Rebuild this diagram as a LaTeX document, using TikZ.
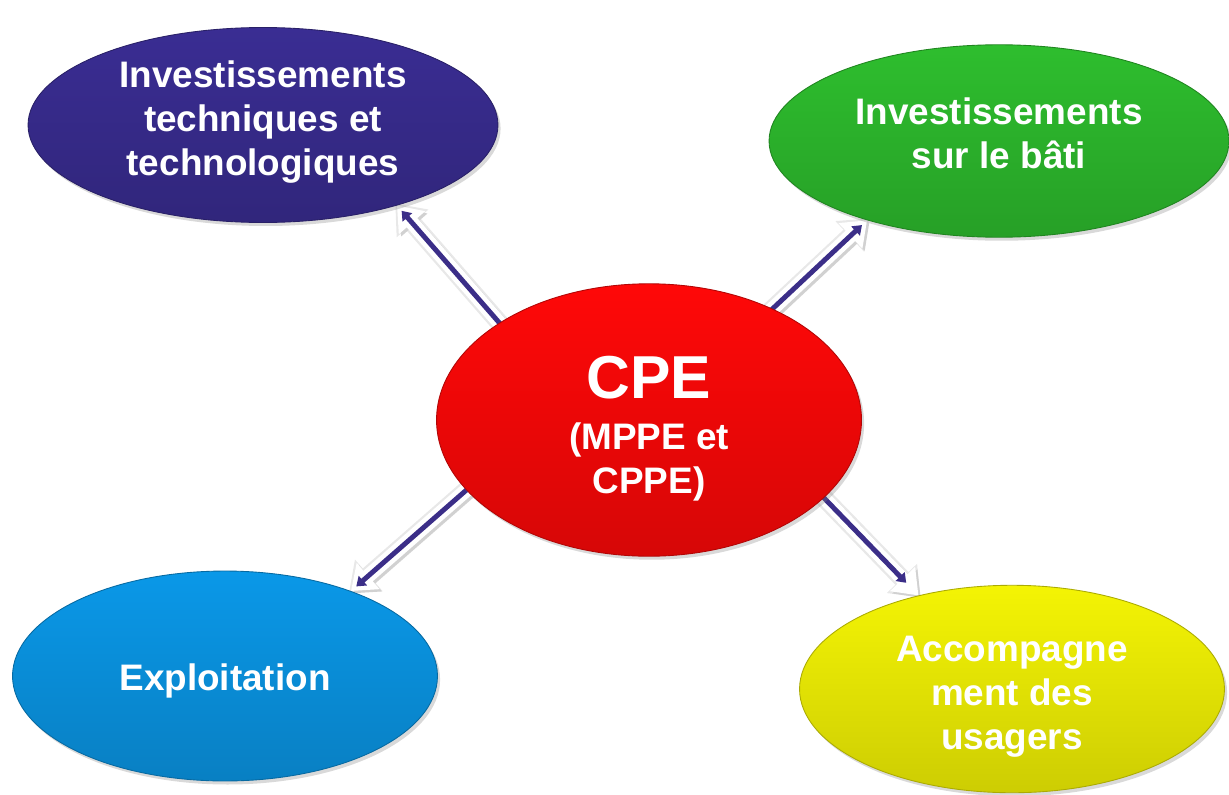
\documentclass[tikz,border=0pt]{standalone}
\usepackage{fontspec}
\setmainfont{Liberation Sans}
\usetikzlibrary{arrows.meta}
\usetikzlibrary{shapes.geometric}
\usetikzlibrary{shadows}
\usetikzlibrary{backgrounds}
\definecolor{mpurple}{HTML}{3A2D93}
\definecolor{mgreen}{HTML}{2EBE2E}
\definecolor{mblue}{HTML}{0A98E8}
\definecolor{myellow}{HTML}{F4F404}
\definecolor{mred}{HTML}{FF0808}
\definecolor{marrow}{HTML}{3B2E88}
\tikzset{bubble/.style = {ellipse, inner sep = 0, align = center, text = white,
                          font = \bfseries\fontsize{21}{25}\selectfont,
                          draw = #1!70!black, line width = 0.5pt,
                          top color = #1, bottom color = #1!84!black,
                          drop shadow = {opacity = 0.3, shadow xshift = 1.5pt, shadow yshift = -2pt}}}
\tikzset{link/.style = {marrow, line width = 2.8pt, shorten < = -20pt,
                        -{Triangle[width = 7pt, length = 5pt]},
                        preaction = {draw = black!9, line width = 10.5pt, shorten > = -1.5pt,
                                     -{Triangle[width = 23pt, length = 15pt]}},
                        preaction = {draw = black!18, line width = 8pt, shorten > = 0pt,
                                     -{Triangle[width = 19pt, length = 13pt]},
                                     transform canvas = {shift = {(1.3pt, -1.3pt)}}},
                        preaction = {draw = white, line width = 8pt, shorten > = 0pt,
                                     -{Triangle[width = 19pt, length = 13pt]}}}}

\begin{document}
\begin{tikzpicture}[x = 0.02cm, y = -0.02cm]
    \useasboundingbox (0, 0) rectangle (1229, 794);

    \node [bubble = mpurple, minimum width = 9.4cm, minimum height = 3.9cm] (tech) at (263, 125)
          {Investissements\\ techniques et\\ technologiques\rule[-8pt]{0pt}{8pt}};
    \node [bubble = mgreen, minimum width = 9.2cm, minimum height = 3.85cm] (bati) at (999, 141)
          {Investissements\\ sur le bâti\rule[-9pt]{0pt}{9pt}};
    \node [bubble = mblue, minimum width = 8.5cm, minimum height = 4.2cm] (expl) at (225, 676)
          {\rule{0pt}{21pt}Exploitation};
    \node [bubble = myellow, minimum width = 8.5cm, minimum height = 4.15cm] (usag) at (1012, 689)
          {\rule{0pt}{23pt}Accompagne\\ ment des\\ usagers};
    \node [bubble = mred, minimum width = 8.5cm, minimum height = 5.45cm] (cpe) at (649, 420)
          {{\fontsize{34.5}{30}\selectfont\rule{0pt}{34pt}CPE}\\[4pt] (MPPE et\\ CPPE)};

    \begin{pgfonlayer}{background}
      \draw [link, shorten > = 4pt] (cpe.147) -- (tech.-31);
      \draw [link, shorten > = 4pt] (cpe.42) -- (bati.-149);
      \draw [link, shorten > = 4pt] (cpe.-159) -- (expl.34);
      \draw [link, shorten > = 10pt] (cpe.-24) -- (usag.135);
    \end{pgfonlayer}
\end{tikzpicture}
\end{document}
